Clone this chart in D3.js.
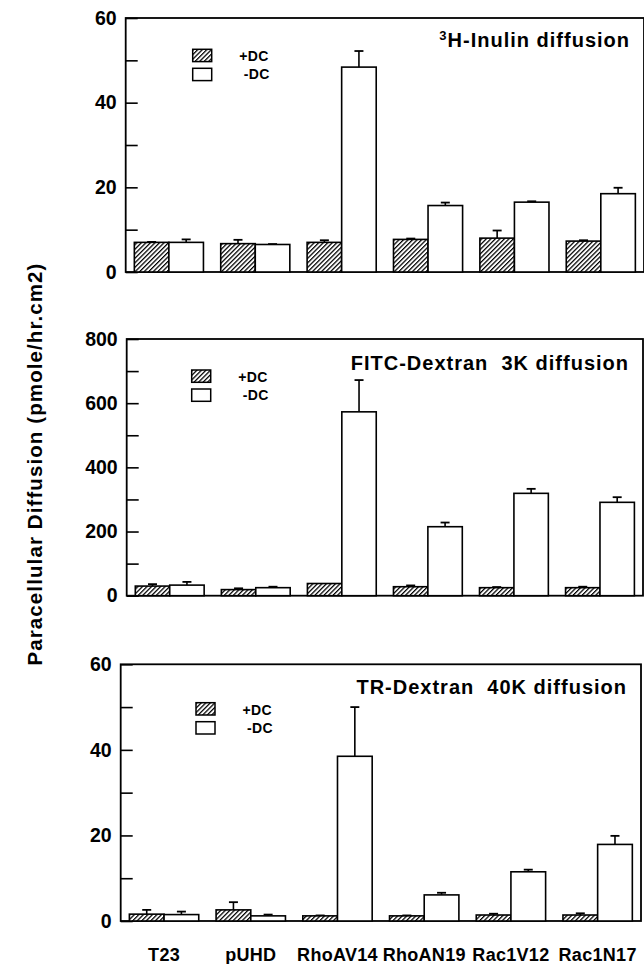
<!DOCTYPE html>
<html>
<head>
<meta charset="utf-8">
<script src="https://cdn.jsdelivr.net/npm/d3@7"></script>
<style>
  html, body { margin: 0; padding: 0; background: #fff; }
  svg { display: block; }
  text { font-family: "Liberation Sans", Arial, Helvetica, sans-serif; font-weight: bold; fill: #000; }
</style>
</head>
<body>
<svg id="chart" width="644" height="964"></svg>
<script>
// ---------- data ----------
const categories = ["T23", "pUHD", "RhoAV14", "RhoAN19", "Rac1V12", "Rac1N17"];
const seriesNames = ["+DC", "-DC"];

const inulinPlus      = [7.0, 6.7, 7.0, 7.7, 8.0, 7.3];
const inulinPlusErr   = [0.1, 0.9, 0.5, 0.2, 1.8, 0.2];
const inulinMinus     = [7.0, 6.5, 48.4, 15.7, 16.5, 18.5];
const inulinMinusErr  = [0.7, 0.1, 3.8, 0.7, 0.2, 1.4];

const fitcPlus        = [30, 19, 38, 28, 25, 25];
const fitcPlusErr     = [6, 4, 0, 4, 2, 3];
const fitcMinus       = [33, 25, 573, 215, 319, 291];
const fitcMinusErr    = [10, 3, 99, 13, 14, 16];

const trPlus          = [1.6, 2.6, 1.2, 1.2, 1.4, 1.4];
const trPlusErr       = [1.0, 1.8, 0.1, 0.1, 0.3, 0.4];
const trMinus         = [1.5, 1.2, 38.5, 6.1, 11.5, 17.9];
const trMinusErr      = [0.7, 0.3, 11.5, 0.5, 0.5, 2.0];

const inulinTicks = [0, 10, 20, 30, 40, 50, 60];
const inulinLabels = [0, 20, 40, 60];
const fitcTicks = [0, 100, 200, 300, 400, 500, 600, 700, 800];
const fitcLabels = [0, 200, 400, 600, 800];
const trTicks = [0, 10, 20, 30, 40, 50, 60];
const trLabels = [0, 20, 40, 60];

const yAxisTitle = "Paracellular Diffusion (pmole/hr.cm2)";

// ---------- layout ----------
const panels = [
  { sup: "3", title: "H-Inulin diffusion", plus: inulinPlus, plusErr: inulinPlusErr, minus: inulinMinus, minusErr: inulinMinusErr,
    ticks: inulinTicks, labels: inulinLabels, max: 60,
    left: 125.7, right: 644, top: 18, bottom: 272, legX: 192.7, legY: 49.3, titleY: 47 },
  { sup: "", title: "FITC-Dextran  3K diffusion", plus: fitcPlus, plusErr: fitcPlusErr, minus: fitcMinus, minusErr: fitcMinusErr,
    ticks: fitcTicks, labels: fitcLabels, max: 800,
    left: 126.7, right: 643, top: 339, bottom: 595.7, legX: 191.7, legY: 370, titleY: 369.5 },
  { sup: "", title: "TR-Dextran  40K diffusion", plus: trPlus, plusErr: trPlusErr, minus: trMinus, minusErr: trMinusErr,
    ticks: trTicks, labels: trLabels, max: 60,
    left: 120.7, right: 641, top: 664.3, bottom: 921, legX: 196, legY: 702.7, titleY: 694 }
];

const svg = d3.select("#chart");

// hatch pattern
const defs = svg.append("defs");
const pat = defs.append("pattern")
  .attr("id", "hatch")
  .attr("patternUnits", "userSpaceOnUse")
  .attr("width", 3.2).attr("height", 3.2)
  .attr("patternTransform", "rotate(45)");
pat.append("rect").attr("width", 3.2).attr("height", 3.2).attr("fill", "#fff");
pat.append("line").attr("x1", 0.6).attr("y1", 0).attr("x2", 0.6).attr("y2", 3.2)
  .attr("stroke", "#000").attr("stroke-width", 1.3);

const fills = ["url(#hatch)", "#fff"];

panels.forEach((p, pi) => {
  const g = svg.append("g");
  const x = d3.scaleBand().domain(categories).range([p.left, p.right]).paddingInner(0.2).paddingOuter(0.1);
  const xs = d3.scaleBand().domain(seriesNames).range([0, x.bandwidth()]);
  const y = d3.scaleLinear().domain([0, p.max]).range([p.bottom, p.top]);

  // frame
  g.append("rect")
    .attr("x", p.left).attr("y", p.top)
    .attr("width", p.right - p.left).attr("height", p.bottom - p.top)
    .attr("fill", "none").attr("stroke", "#000").attr("stroke-width", 1.8);

  // y axis
  const ax = d3.axisLeft(y)
    .tickValues(p.ticks)
    .tickSizeInner(-12)
    .tickSizeOuter(0)
    .tickPadding(9)
    .tickFormat(d => p.labels.includes(d) ? String(d) : "");
  const axg = g.append("g").attr("transform", `translate(${p.left},0)`).call(ax);
  axg.select(".domain").remove();
  axg.selectAll(".tick line").attr("stroke", "#000").attr("stroke-width", 1.6);
  axg.selectAll(".tick text")
    .attr("font-size", 19.5).attr("font-family", "Liberation Sans, Arial, sans-serif")
    .attr("font-weight", "bold").attr("fill", "#000");

  // bars
  const rows = categories.map((c, i) => ({
    cat: c,
    vals: [
      { s: seriesNames[0], v: p.plus[i], e: p.plusErr[i] },
      { s: seriesNames[1], v: p.minus[i], e: p.minusErr[i] }
    ]
  }));
  const grp = g.selectAll(".grp").data(rows).join("g")
    .attr("transform", d => `translate(${x(d.cat)},0)`);

  grp.selectAll(".err").data(d => d.vals.filter(v => v.e > 0)).join("g").each(function(d) {
    const cx = xs(d.s) + xs.bandwidth() / 2;
    const e = d3.select(this);
    e.append("line").attr("x1", cx).attr("x2", cx).attr("y1", y(d.v)).attr("y2", y(d.v + d.e))
      .attr("stroke", "#000").attr("stroke-width", 1.6);
    e.append("line").attr("x1", cx - 4.5).attr("x2", cx + 4.5).attr("y1", y(d.v + d.e)).attr("y2", y(d.v + d.e))
      .attr("stroke", "#000").attr("stroke-width", 1.8);
  });

  grp.selectAll("rect").data(d => d.vals).join("rect")
    .attr("x", d => xs(d.s))
    .attr("width", xs.bandwidth())
    .attr("y", d => y(d.v))
    .attr("height", d => y(0) - y(d.v))
    .attr("fill", (d, i) => fills[i])
    .attr("stroke", "#000").attr("stroke-width", 1.6);

  // legend
  const lg = g.append("g").attr("transform", `translate(${p.legX},${p.legY})`);
  seriesNames.forEach((s, i) => {
    lg.append("rect").attr("x", 0).attr("y", i * 19).attr("width", 19).attr("height", 12.3)
      .attr("fill", fills[i]).attr("stroke", "#000").attr("stroke-width", 1.5);
    lg.append("text").attr("x", i === 0 ? 46.5 : 51).attr("y", i * 18 + 12)
      .attr("font-size", 14).style("letter-spacing", "0.4px").text(s);
  });

  // title
  const t = g.append("text").attr("x", p.right - 14).attr("y", p.titleY)
    .attr("text-anchor", "end").attr("font-size", 20)
    .style("letter-spacing", "1px").style("white-space", "pre")
    .attr("xml:space", "preserve");
  if (p.sup) {
    t.append("tspan").attr("font-size", 13).attr("dy", -7).text(p.sup);
    t.append("tspan").attr("dy", 7).text(p.title);
  } else {
    t.text(p.title);
  }

  // category labels on bottom panel
  if (pi === panels.length - 1) {
    g.selectAll(".cat").data(categories).join("text")
      .attr("x", d => x(d) + x.bandwidth() / 2)
      .attr("y", 960.5)
      .attr("text-anchor", "middle")
      .attr("font-size", 18)
      .style("letter-spacing", "0.3px")
      .text(d => d);
  }
});

// y axis title
svg.append("text")
  .attr("transform", "translate(42,464) rotate(-90)")
  .attr("text-anchor", "middle")
  .attr("font-size", 20.5)
  .style("letter-spacing", "1.1px")
  .text(yAxisTitle);
</script>
</body>
</html>
